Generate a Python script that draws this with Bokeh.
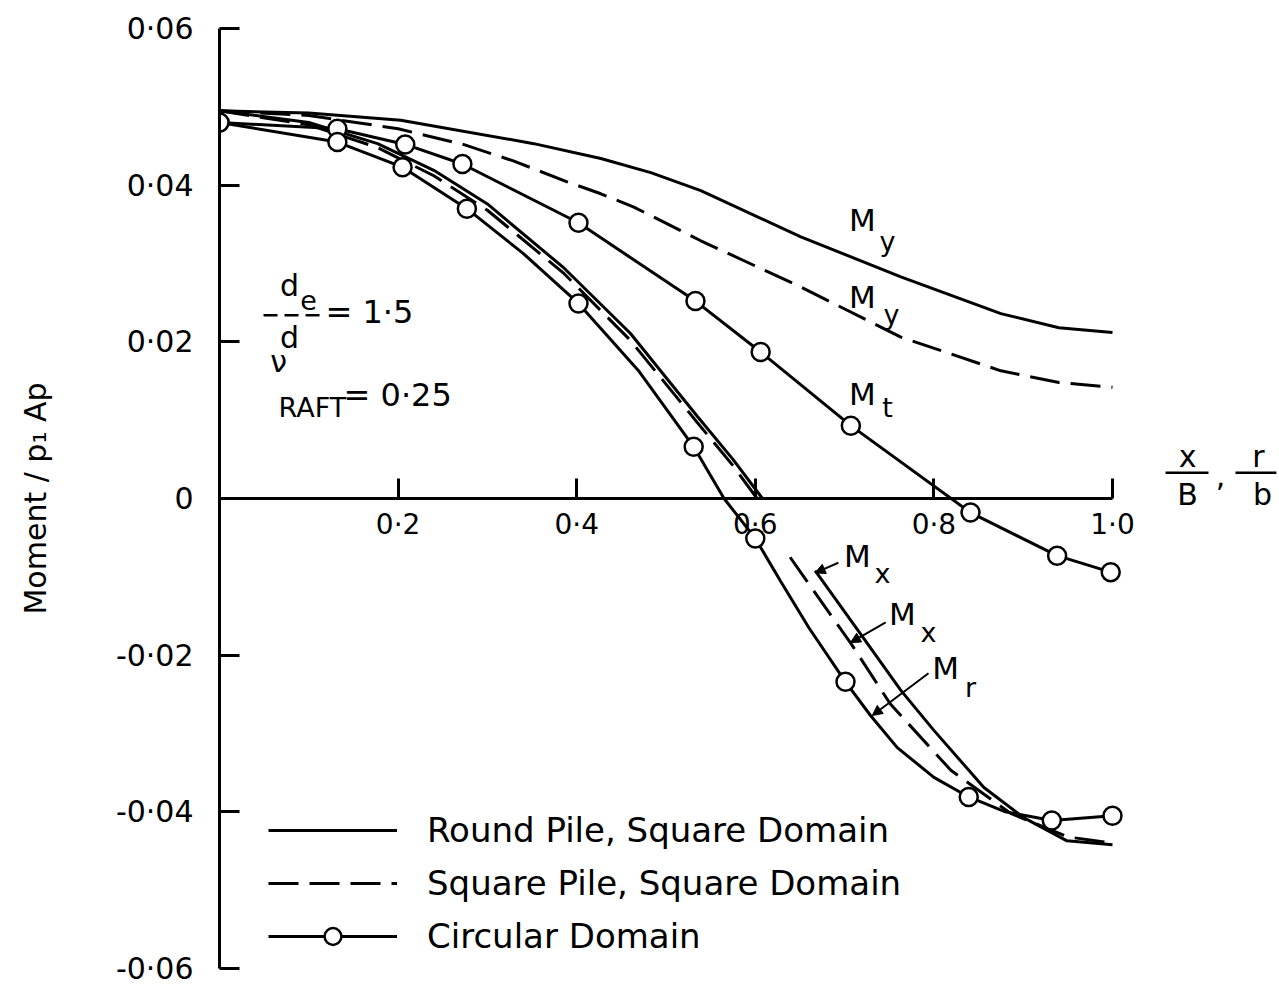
from bokeh.plotting import figure
from bokeh.models import (Range1d, FixedTicker, Legend, LegendItem, Label, Arrow,
                          NormalHead, ColumnDataSource)
from bokeh.embed import file_html
from bokeh.resources import INLINE
from bokeh.core.properties import value

FONT = "DejaVu Sans"

# ---------------- data ----------------
x_ticks = [0.2, 0.4, 0.6, 0.8, 1.0]
x_tick_labels = ["0·2", "0·4", "0·6", "0·8", "1·0"]
y_ticks = [-0.06, -0.04, -0.02, 0.0, 0.02, 0.04, 0.06]
y_tick_labels = ["-0·06", "-0·04", "-0·02", "0", "0·02", "0·04", "0·06"]

# My, round pile, square domain (solid)
my_round_x = [0.0, 0.1, 0.203, 0.352, 0.427, 0.483, 0.539, 0.651, 0.763, 0.875, 0.94, 1.0]
my_round_y = [0.0495, 0.0492, 0.0483, 0.0453, 0.0434, 0.0416, 0.0393, 0.0334, 0.0283, 0.0236, 0.0218, 0.0212]

# My, square pile, square domain (dashed)
my_square_x = [0.0, 0.1, 0.2, 0.273, 0.329, 0.39, 0.427, 0.464, 0.539, 0.651, 0.763, 0.875, 0.94, 1.0]
my_square_y = [0.0495, 0.0489, 0.0472, 0.0452, 0.0431, 0.0404, 0.0389, 0.0372, 0.0329, 0.0270, 0.0206, 0.0163, 0.0148, 0.0142]

# Mx, round pile (solid) - two branches
mx_round_upper_x = [0.0, 0.1, 0.177, 0.24, 0.3, 0.386, 0.46, 0.535, 0.575, 0.608]
mx_round_upper_y = [0.0495, 0.0480, 0.0453, 0.0419, 0.0376, 0.0294, 0.0211, 0.0105, 0.0050, 0.0]
mx_round_lower_x = [0.667, 0.718, 0.763, 0.8, 0.856, 0.9, 0.949, 1.0]
mx_round_lower_y = [-0.0092, -0.0173, -0.0245, -0.0296, -0.0369, -0.0407, -0.0437, -0.0442]

# Mx, square pile (dashed) - two branches
mx_square_upper_x = [0.0, 0.1, 0.177, 0.24, 0.3, 0.386, 0.46, 0.535, 0.575, 0.602]
mx_square_upper_y = [0.0495, 0.0477, 0.0448, 0.0412, 0.0368, 0.0287, 0.0202, 0.0097, 0.0042, 0.0]
mx_square_lower_x = [0.639, 0.707, 0.751, 0.819, 0.886, 0.95, 1.0]
mx_square_lower_y = [-0.0075, -0.0185, -0.0262, -0.0347, -0.0402, -0.0432, -0.0440]

# Circular domain: Mt (line and computed points)
mt_x = [0.0, 0.132, 0.208, 0.272, 0.402, 0.533, 0.606, 0.707, 0.841, 0.938, 0.998]
mt_y = [0.048, 0.0472, 0.0452, 0.0427, 0.0352, 0.0252, 0.0187, 0.0093, -0.0018, -0.0073, -0.0094]

# Circular domain: Mr (smooth line and computed points)
mr_x = [0.0, 0.132, 0.205, 0.277, 0.34, 0.402, 0.47, 0.531, 0.565, 0.6, 0.628, 0.66,
        0.701, 0.729, 0.759, 0.8, 0.839, 0.88, 0.932, 1.0]
mr_y = [0.048, 0.0455, 0.0423, 0.037, 0.0313, 0.0249, 0.0162, 0.0066, 0.0, -0.0051, -0.0105, -0.0165,
        -0.0234, -0.0277, -0.0318, -0.0356, -0.0381, -0.0400, -0.0411, -0.0405]
mr_pts_x = [0.0, 0.132, 0.205, 0.277, 0.402, 0.531, 0.6, 0.701, 0.839, 0.932, 1.0]
mr_pts_y = [0.048, 0.0455, 0.0423, 0.037, 0.0249, 0.0066, -0.0051, -0.0234, -0.0381, -0.0411, -0.0405]

legend_labels = ["Round Pile, Square Domain", "Square Pile, Square Domain", "Circular Domain"]

# ---------------- figure ----------------
W, H = 1277, 990
LEFT, TOP, BOTTOM = 219, 28, 22
X_END = (W - LEFT) / 893.0   # keeps 0..1 over 893 px, leaves room for the x title

p = figure(width=W, height=H,
           x_range=Range1d(0, X_END), y_range=Range1d(-0.06, 0.06),
           output_backend="svg", toolbar_location=None,
           min_border_left=LEFT, min_border_right=0, min_border_top=TOP, min_border_bottom=BOTTOM)
p.outline_line_color = None
p.grid.visible = False
p.background_fill_color = "white"

LW = 3
DASH = "30 11"

r_my_round = p.line(my_round_x, my_round_y, line_color="black", line_width=LW)
r_my_square = p.line(my_square_x, my_square_y, line_color="black", line_width=LW, line_dash=DASH)
p.line(mx_round_upper_x, mx_round_upper_y, line_color="black", line_width=LW)
p.line(mx_round_lower_x, mx_round_lower_y, line_color="black", line_width=LW)
p.line(mx_square_upper_x, mx_square_upper_y, line_color="black", line_width=LW, line_dash=DASH)
p.line(mx_square_lower_x, mx_square_lower_y, line_color="black", line_width=LW, line_dash=DASH)
p.line(mt_x, mt_y, line_color="black", line_width=LW)
r_mr_line = p.line(mr_x, mr_y, line_color="black", line_width=LW)
p.scatter(mt_x, mt_y, marker="circle", size=18, fill_color="white", line_color="black", line_width=2.5)
r_mr_pts = p.scatter(mr_pts_x, mr_pts_y, marker="circle", size=18, fill_color="white",
                     line_color="black", line_width=2.5)

# ---------------- axes ----------------
yax = p.yaxis[0]
yax.ticker = FixedTicker(ticks=y_ticks)
yax.major_label_overrides = {t: s for t, s in zip(y_ticks, y_tick_labels)}
yax.major_tick_in = 20
yax.major_tick_out = 0
yax.minor_tick_line_color = None
yax.axis_line_width = 3
yax.major_tick_line_width = 3
yax.axis_line_color = "black"
yax.major_tick_line_color = "black"
yax.major_label_text_font = FONT
yax.major_label_text_font_size = "30px"
yax.major_label_text_color = "black"
yax.major_label_standoff = 26
yax.axis_label = "Moment / p₁ Ap"
yax.axis_label_text_font = FONT
yax.axis_label_text_font_size = "30px"
yax.axis_label_text_font_style = "normal"
yax.axis_label_text_color = "black"
yax.axis_label_standoff = 60

xax = p.xaxis[0]
xax.fixed_location = 0
xax.bounds = (0, 1.0)
xax.ticker = FixedTicker(ticks=x_ticks)
xax.major_label_overrides = {t: s for t, s in zip(x_ticks, x_tick_labels)}
xax.major_tick_in = 20
xax.major_tick_out = 0
xax.minor_tick_line_color = None
xax.axis_line_width = 3
xax.major_tick_line_width = 3
xax.axis_line_color = "black"
xax.major_tick_line_color = "black"
xax.major_label_text_font = FONT
xax.major_label_text_font_size = "28px"
xax.major_label_text_color = "black"
xax.major_label_standoff = 9

# ---------------- curve labels ----------------
m_src = ColumnDataSource(dict(x=[0.720, 0.720, 0.720, 0.7144, 0.7648, 0.813],
                              y=[0.0356, 0.0257, 0.0134, -0.0073, -0.0147, -0.0217],
                              t=["M", "M", "M", "M", "M", "M"]))
s_src = ColumnDataSource(dict(x=[0.748, 0.7525, 0.748, 0.7424, 0.794, 0.841],
                              y=[0.0328, 0.0235, 0.0116, -0.0096, -0.0171, -0.0241],
                              t=["y", "y", "t", "x", "x", "r"]))
p.text(x="x", y="y", text="t", source=m_src, text_font=value(FONT), text_font_size="31px",
       text_align="center", text_baseline="middle", text_color="black")
p.text(x="x", y="y", text="t", source=s_src, text_font=value(FONT), text_font_size="27px",
       text_align="center", text_baseline="middle", text_color="black")

for xs, ys, xe, ye in [(0.693, -0.0082, 0.667, -0.0095),
                       (0.746, -0.0158, 0.7066, -0.0184),
                       (0.794, -0.0223, 0.731, -0.0277)]:
    p.add_layout(Arrow(end=NormalHead(size=10, fill_color="black", line_color="black"),
                       x_start=xs, y_start=ys, x_end=xe, y_end=ye,
                       line_color="black", line_width=2))

# ---------------- parameter notes ----------------
def lab(x, y, text, size="30px", align="center", baseline="middle"):
    p.add_layout(Label(x=x, y=y, text=text, text_font=FONT, text_font_size=size,
                       text_align=align, text_baseline=baseline, text_color="black"))

lab(0.0784, 0.0272, "d")
lab(0.0997, 0.0254, "e", size="27px")
p.add_layout(Arrow(end=None, x_start=0.0493, y_start=0.0234, x_end=0.1153, y_end=0.0234,
                   line_color="black", line_width=2.5, line_dash="14 7"))
lab(0.0784, 0.0206, "d")
lab(0.1187, 0.0238, "= 1·5", size="32px", align="left")

lab(0.0661, 0.0175, "ν")
lab(0.1041, 0.0116, "RAFT", size="27px")
lab(0.1389, 0.0132, "= 0·25", size="32px", align="left")

# x-axis title (fractions) right of axis end
lab(1.084, 0.0053, "x")
p.add_layout(Arrow(end=None, x_start=1.0594, y_start=0.0033, x_end=1.1075, y_end=0.0033,
                   line_color="black", line_width=2.5))
lab(1.084, 0.0005, "B")
lab(1.121, 0.0030, ",", baseline="alphabetic")
lab(1.1635, 0.0053, "r")
p.add_layout(Arrow(end=None, x_start=1.1377, y_start=0.0033, x_end=1.1835, y_end=0.0033,
                   line_color="black", line_width=2.5))
lab(1.168, 0.0005, "b")

# ---------------- legend ----------------
legend = Legend(items=[LegendItem(label=legend_labels[0], renderers=[r_my_round]),
                       LegendItem(label=legend_labels[1], renderers=[r_my_square]),
                       LegendItem(label=legend_labels[2], renderers=[r_mr_line, r_mr_pts])],
                location=(49, 11), orientation="vertical",
                glyph_width=129, glyph_height=42, label_height=42,
                label_standoff=30, spacing=11, padding=0, margin=0,
                border_line_color=None, background_fill_alpha=0,
                label_text_font=FONT, label_text_font_size="34px", label_text_color="black")
p.add_layout(legend)

open("out.html", "w").write(file_html(p, INLINE))
